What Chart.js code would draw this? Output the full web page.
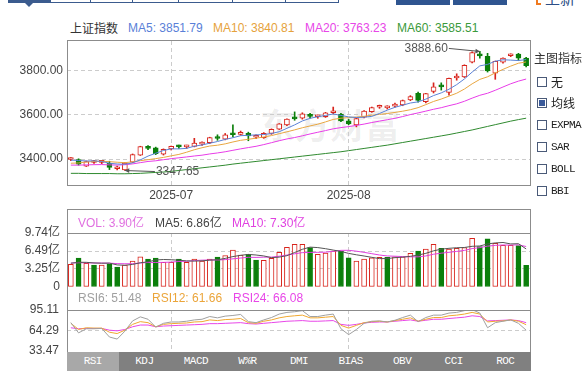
<!DOCTYPE html>
<html lang="zh-CN">
<head>
<meta charset="utf-8">
<title>上证指数</title>
<script src="https://cdn.jsdelivr.net/npm/chart.js@4.4.1/dist/chart.umd.min.js"></script>
<style>
  html, body { margin: 0; padding: 0; background: #fff; }
  body { width: 586px; height: 374px; position: relative; overflow: hidden;
         font-family: "Liberation Sans", Arial, "Noto Sans CJK SC", sans-serif; font-size: 12px; color: #333; }
  .abs { position: absolute; white-space: nowrap; line-height: 14px; }
  canvas { position: absolute; left: 0; }
  .frame { position: absolute; box-sizing: border-box; border: 1px solid #8c8c8c; pointer-events: none; }
  .sep { position: absolute; left: 67px; width: 464px; height: 1px; background: #8c8c8c; }
  .cb { position: absolute; left: 537px; width: 10px; height: 10px; box-sizing: border-box; border: 1px solid #4a5a78; background: #fff; }
  .cbl { position: absolute; left: 551px; line-height: 14px; font-size: 12px; color: #222; }
  .mono { font-family: "Liberation Mono", monospace; font-size: 11px; letter-spacing: -0.6px; }
  .tabs { position: absolute; left: 67px; top: 352px; width: 464px; height: 19px; background: #808080; display: flex; }
  .tabs div { flex: 1; text-align: center; color: #fff; line-height: 19px;
              font-family: "Liberation Mono", monospace; font-size: 11px; letter-spacing: -0.5px; }
</style>
</head>
<body>

<!-- bandeau du haut (coupé) -->
<div class="abs" style="left:8px;top:0;width:42px;height:3px;background:#3b5b8e"></div>
<div class="abs" style="left:25px;top:3px;width:0;height:0;border-left:4px solid transparent;border-right:4px solid transparent;border-top:4px solid #3b5b8e"></div>
<div class="abs" style="left:50px;top:-4px;width:289px;height:7px;box-sizing:border-box;border:1px solid #3b5b8e;border-top:none"></div>
<div class="abs" style="left:90px;top:0;width:1px;height:3px;background:#3b5b8e"></div>
<div class="abs" style="left:132px;top:0;width:1px;height:3px;background:#3b5b8e"></div>
<div class="abs" style="left:178px;top:0;width:1px;height:3px;background:#3b5b8e"></div>
<div class="abs" style="left:232px;top:0;width:1px;height:3px;background:#3b5b8e"></div>
<div class="abs" style="left:285px;top:0;width:1px;height:3px;background:#3b5b8e"></div>
<div class="abs" style="left:396px;top:0;width:54px;height:5px;background:#2f5590"></div>
<div class="abs" style="left:453px;top:0;width:54px;height:5px;background:#2f5590"></div>
<div class="abs" style="left:536px;top:-3px;width:5px;height:8px;box-sizing:border-box;border:2px solid #f07a20;border-right:none"></div>
<div class="abs" style="left:545px;top:-10px;font-size:15px;line-height:16px;color:#2c4e86;font-family:'Noto Sans CJK SC'">上新</div>

<!-- titre + valeurs des moyennes -->
<div class="abs" style="left:70px;top:21px;color:#333;font-family:'Noto Sans CJK SC'">上证指数</div>
<div class="abs" style="left:128px;top:21px;color:#5a7fd8">MA5: 3851.79</div>
<div class="abs" style="left:213px;top:21px;color:#e6a23c">MA10: 3840.81</div>
<div class="abs" style="left:305px;top:21px;color:#e846e8">MA20: 3763.23</div>
<div class="abs" style="left:397px;top:21px;color:#3b9a3b">MA60: 3585.51</div>

<!-- filigrane -->
<div class="abs" style="left:260px;top:104px;font-size:35px;line-height:40px;font-weight:bold;color:rgba(0,0,0,0.07);letter-spacing:0;font-family:'Noto Sans CJK SC'">东方财富</div>

<canvas id="main" width="531" height="170" style="top:36px"></canvas>
<canvas id="vol" width="531" height="90" style="top:205px"></canvas>
<canvas id="rsi" width="531" height="74" style="top:287px"></canvas>

<div class="frame" style="left:67px;top:40px;width:464px;height:146px"></div>
<div class="frame" style="left:67px;top:209px;width:464px;height:144px"></div>
<div class="sep" style="top:233px"></div>
<div class="sep" style="top:310px"></div>

<!-- légendes des panneaux du bas -->
<div class="abs" style="left:78px;top:216px;color:#e070e0">VOL: 3.90亿</div>
<div class="abs" style="left:155px;top:216px;color:#444">MA5: 6.86亿</div>
<div class="abs" style="left:232px;top:216px;color:#e040e0">MA10: 7.30亿</div>
<div class="abs" style="left:78px;top:291px;color:#a0a0a0">RSI6: 51.48</div>
<div class="abs" style="left:152px;top:291px;color:#eba53a">RSI12: 61.66</div>
<div class="abs" style="left:233px;top:291px;color:#e846e8">RSI24: 66.08</div>

<!-- menu de droite -->
<div class="abs" style="left:534px;top:51px;color:#333;font-family:'Noto Sans CJK SC'">主图指标</div>
<div class="cb" style="top:77px"></div><div class="cbl" style="top:75px;font-family:'Noto Sans CJK SC'">无</div>
<div class="cb" style="top:98px"><div style="position:absolute;left:1px;top:1px;width:6px;height:6px;background:#3a5a9a"></div></div>
<div class="cbl" style="top:96px;font-family:'Noto Sans CJK SC'">均线</div>
<div class="cb" style="top:120px"></div><div class="cbl mono" style="top:118px">EXPMA</div>
<div class="cb" style="top:142px"></div><div class="cbl mono" style="top:140px">SAR</div>
<div class="cb" style="top:164px"></div><div class="cbl mono" style="top:162px">BOLL</div>
<div class="cb" style="top:186px"></div><div class="cbl mono" style="top:184px">BBI</div>

<!-- onglets des indicateurs -->
<div class="tabs">
  <div style="background:#a8a8a8">RSI</div><div>KDJ</div><div>MACD</div><div>W%R</div><div>DMI</div>
  <div>BIAS</div><div>OBV</div><div>CCI</div><div>ROC</div>
</div>

<script>
// Séances affichées (60 jours)
const dates = [
  '2025-06-12','2025-06-13','2025-06-16','2025-06-17','2025-06-18','2025-06-19','2025-06-20','2025-06-23','2025-06-24','2025-06-25',
  '2025-06-26','2025-06-27','2025-06-30','2025-07-01','2025-07-02','2025-07-03','2025-07-04','2025-07-07','2025-07-08','2025-07-09',
  '2025-07-10','2025-07-11','2025-07-14','2025-07-15','2025-07-16','2025-07-17','2025-07-18','2025-07-21','2025-07-22','2025-07-23',
  '2025-07-24','2025-07-25','2025-07-28','2025-07-29','2025-07-30','2025-07-31','2025-08-01','2025-08-04','2025-08-05','2025-08-06',
  '2025-08-07','2025-08-08','2025-08-11','2025-08-12','2025-08-13','2025-08-14','2025-08-15','2025-08-18','2025-08-19','2025-08-20',
  '2025-08-21','2025-08-22','2025-08-25','2025-08-26','2025-08-27','2025-08-28','2025-08-29','2025-09-01','2025-09-02','2025-09-03'
];
const monthStarts = ['2025-07-01', '2025-08-01'];

// Bougies
const opens = [3398,3398,3368,3384,3385,3380,3356,3350,3386,3418,3452,3451,3422,3446,3458,3455,3457,3468,3474,3501,
  3490,3514,3512,3517,3499,3497,3516,3536,3555,3586,3585,3602,3592,3592,3610,3604,3574,3555,3590,3615,
  3635,3632,3640,3646,3668,3698,3660,3707,3731,3703,3768,3773,3840,3873,3866,3790,3840,3869,3877,3858];
const highs = [3407,3401,3391,3394,3393,3390,3368,3384,3423,3458,3461,3454,3446,3459,3463,3463,3494,3478,3499,3510,
  3516,3555,3527,3522,3510,3520,3537,3561,3583,3614,3610,3608,3600,3612,3636,3607,3580,3587,3620,3636,
  3645,3642,3654,3668,3688,3704,3698,3746,3746,3768,3787,3828,3887,3888.60,3880,3845,3860,3878,3880,3862];
const lows = [3392,3372,3366,3380,3379,3352,3350,3347.65,3384,3416,3443,3420,3418,3441,3448,3448,3455,3462,3470,3485,
  3487,3500,3508,3483,3492,3494,3512,3534,3551,3576,3581,3586,3585,3589,3605,3570,3556,3546,3587,3612,
  3630,3627,3635,3642,3665,3658,3655,3700,3713,3690,3758,3770,3836,3858,3795,3762,3835,3865,3848,3818];
const closes = [3402.66,3377.00,3388.73,3387.40,3388.81,3362.11,3359.90,3381.58,3420.57,3455.97,
  3448.45,3424.23,3444.43,3457.75,3454.79,3461.15,3472.32,3473.13,3497.48,3493.05,
  3509.68,3510.18,3519.65,3505.00,3503.78,3516.83,3534.48,3559.79,3581.86,3582.30,
  3605.73,3593.66,3597.94,3609.71,3615.72,3573.21,3559.95,3583.31,3617.60,3633.99,
  3639.67,3635.13,3647.55,3665.92,3683.23,3666.44,3696.77,3728.03,3727.29,3766.21,
  3771.10,3825.76,3883.56,3868.38,3800.35,3843.60,3857.93,3875.53,3858.13,3823.76];
const prevClose = 3402.32;

// Moyennes mobiles
const ma5 = [3394.99,3393.31,3391.11,3391.62,3388.92,3380.81,3377.39,3375.96,3382.59,3396.03,3413.29,3426.16,3438.73,3446.17,3445.93,
  3448.47,3458.09,3463.83,3471.77,3479.43,3489.13,3496.70,3506.01,3507.51,3509.66,3511.09,3515.95,3523.98,3539.35,3555.05,
  3572.83,3584.67,3592.30,3597.87,3604.55,3598.05,3591.31,3588.38,3589.96,3593.61,3606.90,3621.94,3634.79,3644.45,3654.30,
  3659.65,3671.98,3688.08,3700.35,3716.95,3737.88,3763.68,3794.78,3823.00,3829.83,3844.33,3850.76,3849.16,3847.11,3851.79];
const ma10 = [3380.82,3382.17,3386.29,3388.84,3390.10,3387.90,3385.35,3383.53,3387.11,3392.47,3397.05,3401.78,3407.35,3414.38,3420.98,
  3430.88,3442.12,3451.28,3458.97,3462.68,3468.80,3477.40,3484.92,3489.64,3494.54,3500.11,3506.33,3514.99,3523.43,3532.36,
  3541.96,3550.31,3558.14,3568.61,3579.80,3585.44,3587.99,3590.34,3593.91,3599.08,3602.48,3606.62,3611.58,3617.21,3623.96,
  3633.28,3646.96,3661.43,3672.40,3685.62,3698.77,3717.83,3741.43,3761.68,3773.39,3791.11,3807.22,3821.97,3835.06,3840.81];
const ma20 = [3372.40,3372.21,3373.28,3374.27,3374.68,3373.41,3372.40,3374.06,3377.74,3383.51,3388.93,3391.97,3396.82,3401.61,3405.54,
  3409.39,3413.74,3417.41,3423.04,3427.58,3432.93,3439.59,3446.13,3452.01,3457.76,3465.50,3474.23,3483.14,3491.20,3497.52,
  3505.38,3513.85,3521.53,3529.13,3537.17,3542.78,3547.16,3552.67,3558.67,3565.72,3572.22,3578.47,3584.86,3592.91,3601.88,
  3609.36,3617.47,3625.89,3633.16,3642.35,3650.62,3662.23,3676.51,3689.44,3698.67,3712.19,3727.09,3741.70,3753.73,3763.23];
const ma60 = [3335,3335,3334,3334,3334,3334,3333,3333,3334,3335,3337,3339,3341,3344,3348,3352,3356,3360,3364,3368,
  3372,3377,3381,3385,3389,3393,3397,3401,3405,3409,3413,3417,3421,3425,3429,3433,3438,3443,3448,3453,
  3458,3463,3469,3475,3481,3487,3493,3499,3505,3511,3518,3525,3532,3540,3548,3556,3564,3572,3579,3585.51];

// Volumes (亿)
const volumes = [4.07,5.22,4.25,3.95,3.95,4.19,3.58,3.95,4.67,5.46,5.04,5.22,4.43,4.43,5.04,4.43,5.04,4.67,5.04,5.40,
  5.65,6.68,5.77,5.89,4.86,4.80,5.16,6.25,7.16,7.71,7.71,7.10,5.89,6.13,6.49,6.49,5.28,4.67,5.04,5.28,
  5.34,5.34,5.46,5.46,6.07,6.49,6.86,7.71,6.98,6.86,6.98,7.10,8.80,7.28,8.68,7.89,7.50,7.50,7.47,3.90];
const volMa5 = [4.29,4.46,4.45,4.34,4.29,4.31,3.98,3.92,4.07,4.37,4.54,4.87,4.96,4.92,4.83,4.71,4.67,4.72,4.84,4.92,
  5.16,5.49,5.71,5.88,5.77,5.60,5.30,5.39,5.65,6.22,6.80,7.19,7.11,6.91,6.66,6.42,6.06,5.81,5.59,5.35,
  5.12,5.13,5.29,5.38,5.53,5.76,6.07,6.52,6.82,6.98,7.08,7.13,7.34,7.40,7.77,7.95,8.03,7.77,7.81,6.86];
const volMa10 = [4.31,4.38,4.36,4.33,4.32,4.30,4.22,4.19,4.20,4.33,4.43,4.43,4.44,4.49,4.60,4.63,4.77,4.84,4.88,4.87,
  4.94,5.08,5.22,5.36,5.34,5.38,5.39,5.55,5.76,5.99,6.20,6.24,6.25,6.28,6.44,6.61,6.62,6.46,6.25,6.01,
  5.77,5.60,5.55,5.49,5.44,5.44,5.60,5.91,6.10,6.26,6.42,6.60,6.93,7.11,7.37,7.51,7.58,7.56,7.61,7.30];

// RSI
const rsi6 = [76.1,60.7,66.9,66.9,67.4,54.5,51.4,63.3,78.7,84.8,81.2,69.4,75.1,77.1,77.1,78.2,80.2,81.2,85.3,83.3,
  85.9,86.9,88.4,77.6,76.1,80.2,83.8,89.0,91.5,92.5,94.1,85.3,85.3,87.4,89.0,66.9,58.1,65.8,75.1,78.2,
  78.7,77.1,79.7,83.8,87.4,77.6,83.8,87.4,87.4,90.5,91.5,94.1,95.6,90.5,68.4,76.1,78.2,80.2,75.1,64.8];
const rsi12 = [75.1,65.8,68.4,67.9,67.9,61.7,59.7,64.8,73.5,77.6,76.1,69.9,73.5,74.6,75.1,75.6,77.1,77.6,80.2,79.2,
  80.7,81.2,82.3,76.1,75.1,78.2,80.2,83.3,85.3,86.4,87.4,83.3,83.3,84.3,85.3,72.0,67.9,72.0,76.1,77.6,
  78.2,77.1,79.2,81.2,83.3,78.2,81.2,83.8,83.8,86.4,87.4,89.0,91.5,89.0,77.1,78.2,78.7,80.2,78.2,73.0];
const rsi24 = [68.4,66.9,67.4,67.4,67.4,64.8,63.8,65.8,69.9,72.5,72.5,69.9,71.0,71.5,72.0,72.5,73.0,73.5,74.6,74.6,
  75.1,75.6,76.1,74.6,74.0,75.1,76.1,77.1,78.2,78.7,79.2,78.2,78.2,78.7,79.2,73.5,72.0,73.5,75.6,76.6,
  77.1,77.1,78.2,79.2,80.2,78.2,79.7,81.2,81.2,82.3,83.3,84.3,86.4,85.3,78.7,79.2,79.7,80.2,79.2,76.1];

// Graduations
const priceTicks = [3400, 3600, 3800];
const volTicks = [0, 3.25, 6.49, 9.74];
const rsiTicks = [33.47, 64.29, 95.11];

// Extrêmes annotés
const highMark = { index: 53, value: 3888.60 };
const lowMark = { index: 7, value: 3347.65 };

const RED = '#d8241c';
const GREEN = '#0b7f0b';
const GRID = '#cccccc';

Chart.defaults.font.family = '"Liberation Sans", Arial, "Noto Sans CJK SC", sans-serif';
Chart.defaults.font.size = 12;
Chart.defaults.color = '#444';
Chart.defaults.animation = false;
Chart.defaults.events = [];
Chart.defaults.plugins.legend.display = false;
Chart.defaults.plugins.tooltip.enabled = false;

// axe des dates commun aux trois panneaux
function dateAxis(showLabels, height) {
  return {
    offset: true,
    grid: { offset: false, color: GRID, drawTicks: false },
    border: { display: false, dash: [4, 3] },
    ticks: { display: showLabels, autoSkip: false, maxRotation: 0, padding: 3, callback: v => dates[v].slice(0, 7) },
    afterBuildTicks: s => { s.ticks = s.ticks.filter(t => monthStarts.includes(dates[t.value])); },
    afterFit: s => { s.height = height; s.paddingLeft = 0; s.paddingRight = 0; }
  };
}

function valueAxis(min, max, values, fmt, pad, gridAt) {
  return {
    min: min, max: max,
    afterBuildTicks: s => { s.ticks = values.map(v => ({ value: v })); },
    ticks: { padding: pad, callback: fmt },
    grid: {
      drawTicks: false,
      color: c => (c.tick && gridAt.includes(c.tick.value)) ? GRID : 'rgba(0,0,0,0)'
    },
    border: { display: false, dash: [4, 3] },
    // largeur fixe et pas de marge auto pour garder la zone de tracé en place
    afterFit: s => { s.width = 67; s.paddingTop = 0; s.paddingBottom = 0; }
  };
}

const candleUp = closes.map((c, i) => c >= opens[i]);
const volUp = closes.map((c, i) => c >= (i === 0 ? prevClose : closes[i - 1]));

function line(data, color, order) {
  return { type: 'line', data: data, borderColor: color, borderWidth: 1, pointRadius: 0, tension: 0, order: order };
}

// flèche + valeur pour les extrêmes
function arrowLabel(ctx, tipX, tipY, dx, dy, text) {
  const sx = tipX + dx, sy = tipY + dy;
  ctx.beginPath(); ctx.moveTo(sx, sy); ctx.lineTo(tipX, tipY); ctx.stroke();
  const a = Math.atan2(tipY - sy, tipX - sx);
  ctx.beginPath();
  ctx.moveTo(tipX, tipY);
  ctx.lineTo(tipX - 5 * Math.cos(a - 0.5), tipY - 5 * Math.sin(a - 0.5));
  ctx.lineTo(tipX - 5 * Math.cos(a + 0.5), tipY - 5 * Math.sin(a + 0.5));
  ctx.closePath(); ctx.fill();
  ctx.textAlign = dx < 0 ? 'right' : 'left';
  ctx.textBaseline = 'middle';
  ctx.fillText(text, sx + (dx < 0 ? -1 : 1), sy);
}

const extremes = {
  id: 'extremes',
  afterDatasetsDraw(chart) {
    const { ctx, scales: { x, y } } = chart;
    ctx.save();
    ctx.font = '12px "Liberation Sans", Arial, sans-serif';
    ctx.fillStyle = '#555';
    ctx.strokeStyle = '#555';
    ctx.lineWidth = 1;
    arrowLabel(ctx, x.getPixelForValue(highMark.index), y.getPixelForValue(highMark.value), -31, -3, highMark.value.toFixed(2));
    arrowLabel(ctx, x.getPixelForValue(lowMark.index), y.getPixelForValue(lowMark.value), 30, 1, lowMark.value.toFixed(2));
    ctx.restore();
  }
};

// 1. Graphique principal : bougies + moyennes
new Chart(document.getElementById('main'), {
  type: 'bar',
  data: {
    labels: dates,
    datasets: [
      { // mèches
        data: lows.map((l, i) => [l, highs[i]]),
        backgroundColor: candleUp.map(u => u ? RED : GREEN),
        barThickness: 1, grouped: false, order: 6
      },
      { // corps
        data: opens.map((o, i) => [o, closes[i]]),
        backgroundColor: candleUp.map(u => u ? '#ffffff' : GREEN),
        borderColor: candleUp.map(u => u ? RED : GREEN),
        borderWidth: 1, borderSkipped: false, minBarLength: 2,
        barThickness: 5, grouped: false, order: 5
      },
      line(ma60, '#2f8a2f', 4),
      line(ma20, '#e83ce8', 3),
      line(ma10, '#e8a640', 2),
      line(ma5, '#5b82d6', 1)
    ]
  },
  options: {
    responsive: false,
    layout: { padding: { top: 5, right: 1, left: 0, bottom: 0 } },
    scales: {
      x: dateAxis(true, 21),
      y: valueAxis(3282, 3936, priceTicks, v => v.toFixed(2), 4, priceTicks)
    }
  },
  plugins: [extremes]
});

// 2. Volumes
new Chart(document.getElementById('vol'), {
  type: 'bar',
  data: {
    labels: dates,
    datasets: [
      {
        data: volumes,
        backgroundColor: volUp.map(u => u ? '#ffffff' : GREEN),
        borderColor: volUp.map(u => u ? RED : GREEN),
        borderWidth: 1, borderSkipped: false,
        barThickness: 5, order: 3
      },
      line(volMa10, '#e040e0', 2),
      line(volMa5, '#555555', 1)
    ]
  },
  options: {
    responsive: false,
    layout: { padding: { top: 28, right: 1, left: 0, bottom: 8 } },
    scales: {
      x: dateAxis(false, 0),
      y: valueAxis(0, 9.74, volTicks, v => v === 0 ? '0' : v.toFixed(2) + '亿', 7, [3.25, 6.49])
    }
  }
});

// 3. RSI
new Chart(document.getElementById('rsi'), {
  type: 'line',
  data: {
    labels: dates,
    datasets: [
      line(rsi24, '#e846e8', 3),
      line(rsi12, '#f0a830', 2),
      line(rsi6, '#a0a0a0', 1)
    ]
  },
  options: {
    responsive: false,
    layout: { padding: { top: 23, right: 1, left: 0, bottom: 10 } },
    scales: {
      x: dateAxis(false, 0),
      y: valueAxis(33.47, 95.11, rsiTicks, v => v.toFixed(2), 8, [64.29])
    }
  }
});
</script>
</body>
</html>
